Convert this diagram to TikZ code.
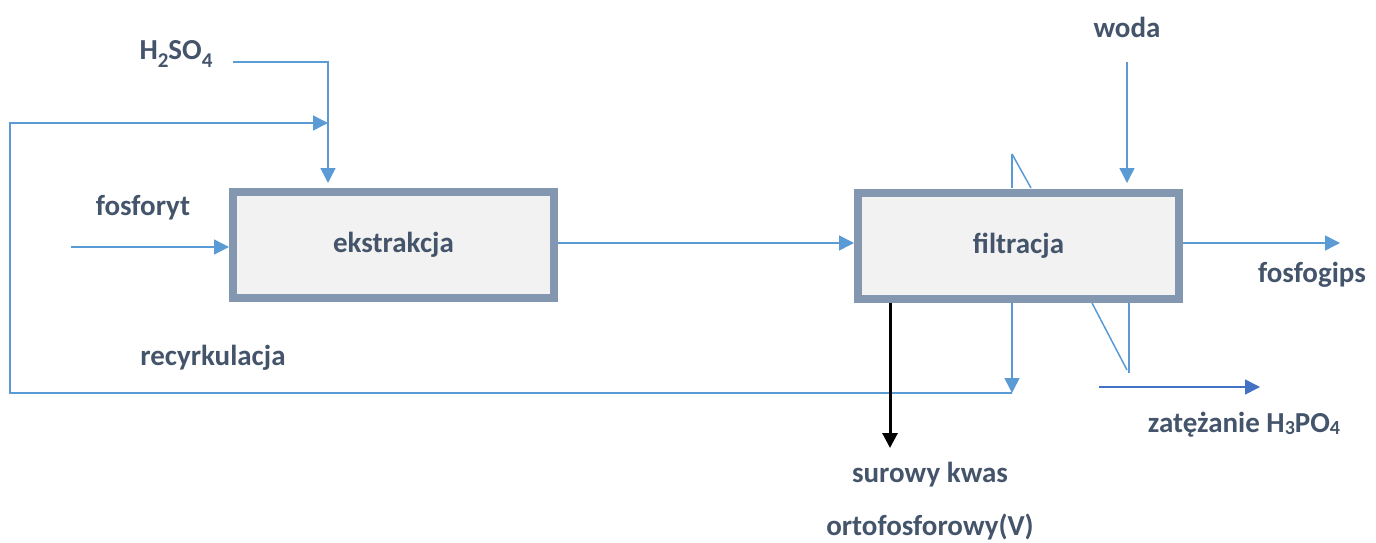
\documentclass[tikz,border=0pt]{standalone}
\usepackage{fontspec}
\setmainfont{Carlito}
\usetikzlibrary{arrows.meta}
\definecolor{txt}{HTML}{44546A}
\definecolor{flowc}{HTML}{5B9BD5}
\definecolor{flowd}{HTML}{4472C4}
\definecolor{boxline}{HTML}{8497B0}
\definecolor{boxfill}{HTML}{F2F2F2}
\newcommand{\lowsub}[1]{\raisebox{-0.3em}{\fontsize{21}{24}\selectfont #1}}
\tikzset{
  lbl/.style={text=txt, font=\fontsize{29}{34}\selectfont\bfseries, inner sep=0pt},
  proc/.style={draw=boxline, fill=boxfill, line width=8pt, minimum width=321pt, minimum height=106pt, inner sep=0pt, text=txt, font=\fontsize{29}{34}\selectfont\bfseries},
  flow/.style={draw=flowc, line width=1.5pt, -{Triangle[length=15pt,width=15pt]}},
  plain/.style={draw=flowc, line width=1.5pt},
  flowdark/.style={draw=flowd, line width=1.5pt, -{Triangle[length=15pt,width=15pt]}},
  prod/.style={draw=black, line width=3pt, -{Triangle[length=15pt,width=15pt]}}
}
\begin{document}
\begin{tikzpicture}[x=1pt,y=-1pt]
\useasboundingbox (0,0) rectangle (1376,543);
\node[proc] (ek) at (393.5,245) {ekstrakcja};
\node[proc] (fi) at (1018.5,245.5) {filtracja};
\node[lbl] (h2so4) at (176,54) {H\lowsub{2}SO\lowsub{4}};
\node[lbl] (woda) at (1127,27) {woda};
\node[lbl] (fosf) at (143,208) {fosforyt};
\node[lbl] (recy) at (213,358) {recyrkulacja};
\node[lbl] (gips) at (1312,275) {fosfogips};
\node[lbl] (zat) at (1244,425) {zatężanie H\raisebox{-0.15ex}{\fontsize{20}{24}\selectfont 3}PO\raisebox{-0.15ex}{\fontsize{20}{24}\selectfont 4}};
\node[lbl] (sur1) at (930,475) {surowy kwas};
\node[lbl] (sur2) at (930,527) {ortofosforowy(V)};
% free ends
\coordinate (h2s) at (233,62);
\coordinate (h2e) at (328,183);
\coordinate (fin) at (71,247);
\coordinate (wst) at (1127,62);
\coordinate (wen) at (1127,183);
\coordinate (gend) at (1340,243);
\coordinate (rj) at (1012,393);
\coordinate (rtop) at (328,123);
\coordinate (za) at (1099,387);
\coordinate (zb) at (1260,387);
\coordinate (pk) at (890,448);
\coordinate (t1) at (1012,154);
\coordinate (t2) at (1031,188);
\coordinate (t3) at (1012,188);
\coordinate (b1) at (1092,303);
\coordinate (b2) at (1127,370);
\coordinate (b3) at (1129,303);
\coordinate (b4) at (1129,373);
% connectors
\draw[flow] (h2s) -| (h2e);
\draw[flow] (fin) -- (fin -| ek.west);
\draw[flow] (ek.east |- 0,243) -- (fi.west |- 0,243);
\draw[flow] (fi.east |- 0,243) -- (gend);
\draw[flow] (wst) -- (wen);
\draw[flow] (fi.south -| rj) -- (rj);
\draw[flow] (rj) -- (10,393) -- (10,123) -- (rtop);
\draw[plain] (t1) -- (t3);
\draw[plain] (t1) -- (t2);
\draw[plain] (b1) -- (b2);
\draw[plain] (b3) -- (b4);
\draw[flowdark] (za) -- (zb);
\draw[prod] (fi.south -| pk) -- (pk);
\end{tikzpicture}
\end{document}
